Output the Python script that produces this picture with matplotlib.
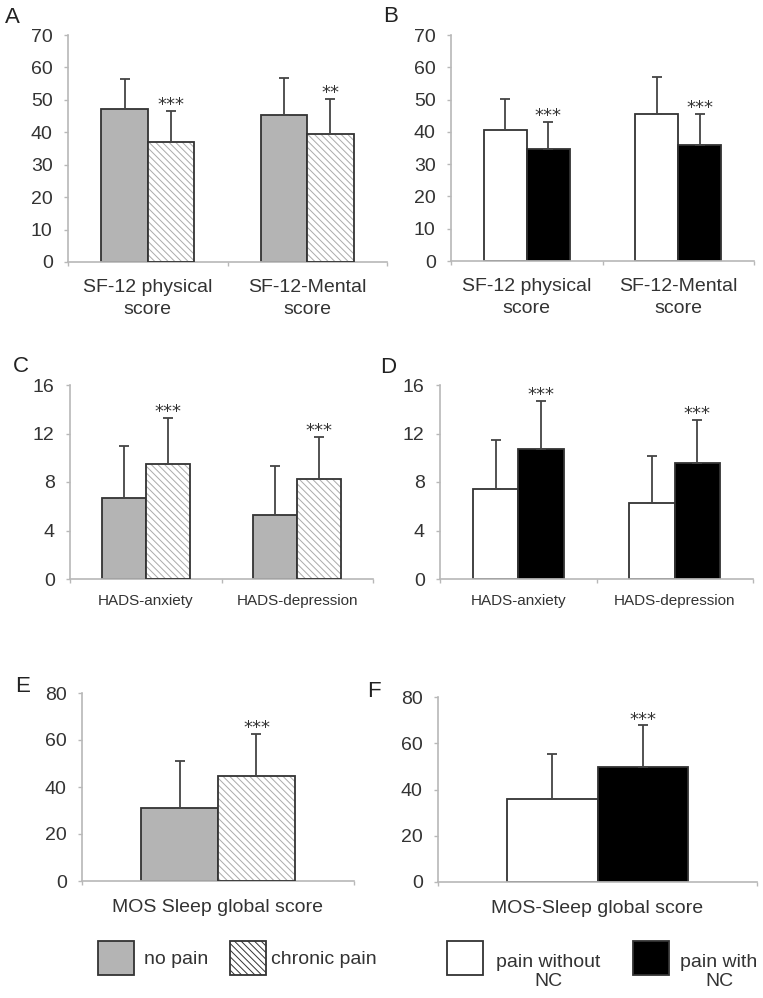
import matplotlib
matplotlib.use("Agg")
import matplotlib.pyplot as plt
from matplotlib.patches import Rectangle
import numpy as np

plt.rcParams['font.family'] = ['Liberation Sans', 'DejaVu Sans']
plt.rcParams['hatch.linewidth'] = 0.7

# ---- data ----
sf12_labels = ['SF-12 physical\nscore', 'SF-12-Mental\nscore']
sf12_no_pain = [47.2, 45.2]
sf12_no_pain_sd = [9.1, 11.6]
sf12_chronic = [36.9, 39.6]
sf12_chronic_sd = [9.7, 10.7]
sf12_stars_a = ['***', '**']
sf12_no_nc = [40.7, 45.4]
sf12_no_nc_sd = [9.6, 11.7]
sf12_nc = [34.7, 35.9]
sf12_nc_sd = [8.3, 9.6]
sf12_stars_b = ['***', '***']

hads_labels = ['HADS-anxiety', 'HADS-depression']
hads_no_pain = [6.66, 5.29]
hads_no_pain_sd = [4.34, 4.0]
hads_chronic = [9.45, 8.25]
hads_chronic_sd = [3.85, 3.45]
hads_no_nc = [7.4, 6.25]
hads_no_nc_sd = [4.1, 3.9]
hads_nc = [10.7, 9.6]
hads_nc_sd = [4.0, 3.5]
hads_stars = ['***', '***']

mos_label_e = ['MOS Sleep global score']
mos_label_f = ['MOS-Sleep global score']
mos_no_pain = [31.1]
mos_no_pain_sd = [20.1]
mos_chronic = [44.7]
mos_chronic_sd = [18.0]
mos_no_nc = [36.1]
mos_no_nc_sd = [19.3]
mos_nc = [49.6]
mos_nc_sd = [18.1]
mos_stars = ['***']

legend_left = ['no pain', 'chronic pain']
legend_right = ['pain without\nNC', 'pain with\nNC']

# styles
AXC = '#b8b8b8'
EDGE = '#333333'
TXT = '#333333'
HATCH = '\\\\\\\\\\'
gray = dict(color='#b4b4b4', hatch=None)
hatched = dict(color='white', hatch=HATCH)
white = dict(color='white', hatch=None)
black = dict(color='black', hatch=None)


def panel(ax, labels, m1, s1, m2, s2, st1, st2, stars, w, ymax, step,
          fs_x, pad_x):
    x = np.arange(len(labels))
    for xs, m, s, st in [(x - w / 2, m1, s1, st1), (x + w / 2, m2, s2, st2)]:
        if st['hatch']:
            ax.bar(xs, m, w, color=st['color'], edgecolor='#aaaaaa',
                   hatch=st['hatch'], linewidth=0, zorder=2)
            ax.bar(xs, m, w, fill=False, edgecolor=EDGE, linewidth=1.3, zorder=3)
        else:
            ax.bar(xs, m, w, color=st['color'], edgecolor=EDGE,
                   linewidth=1.3, zorder=2)
        ax.errorbar(xs, m, yerr=[np.zeros(len(m)), s], fmt='none',
                    ecolor='#444444', elinewidth=1.3, capsize=3.5,
                    capthick=1.3, zorder=4)
    for xi, m, s, t in zip(x + w / 2, m2, s2, stars):
        ax.annotate(t, (xi, m + s), xytext=(0, 0.5), textcoords='offset points',
                    ha='center', va='baseline', fontsize=13, color=TXT,
                    family='DejaVu Sans')
    ax.set_xlim(-0.5, len(labels) - 0.5)
    ax.set_ylim(0, ymax)
    ax.set_yticks(np.arange(0, ymax + 1, step))
    ax.set_xticks(x)
    ax.set_xticklabels(labels, fontsize=fs_x, color=TXT, linespacing=1.4)
    ax.set_xticks(np.arange(-0.5, len(labels), 1), minor=True)
    ax.tick_params(axis='x', which='major', length=0, pad=pad_x)
    ax.tick_params(axis='x', which='minor', length=3, color=AXC, width=1)
    ax.tick_params(axis='y', length=3, color=AXC, width=1, pad=8,
                   labelsize=14, labelcolor=TXT)
    for sp in ['top', 'right']:
        ax.spines[sp].set_visible(False)
    for sp in ['left', 'bottom']:
        ax.spines[sp].set_color(AXC)
        ax.spines[sp].set_linewidth(1.2)


W, H = 763, 998
fig = plt.figure(figsize=(W / 100, H / 100), dpi=100)


def box(l, r, top, bot):
    return [l / W, 1 - bot / H, (r - l) / W, (bot - top) / H]


axA = fig.add_axes(box(68, 387, 35, 262))
axB = fig.add_axes(box(451, 754, 35, 261))
axC = fig.add_axes(box(70, 373, 385, 579))
axD = fig.add_axes(box(440, 753, 385, 579))
axE = fig.add_axes(box(82, 354, 693, 881))
axF = fig.add_axes(box(438, 757, 697, 882))

panel(axA, sf12_labels, sf12_no_pain, sf12_no_pain_sd, sf12_chronic,
      sf12_chronic_sd, gray, hatched, sf12_stars_a, 0.29, 70, 10, 14, 12)
panel(axB, sf12_labels, sf12_no_nc, sf12_no_nc_sd, sf12_nc, sf12_nc_sd,
      white, black, sf12_stars_b, 0.284, 70, 10, 14, 12)
panel(axC, hads_labels, hads_no_pain, hads_no_pain_sd, hads_chronic,
      hads_chronic_sd, gray, hatched, hads_stars, 0.29, 16, 4, 11, 11)
panel(axD, hads_labels, hads_no_nc, hads_no_nc_sd, hads_nc, hads_nc_sd,
      white, black, hads_stars, 0.29, 16, 4, 11, 11)
panel(axE, mos_label_e, mos_no_pain, mos_no_pain_sd, mos_chronic,
      mos_chronic_sd, gray, hatched, mos_stars, 0.283, 80, 20, 14, 13)
panel(axF, mos_label_f, mos_no_nc, mos_no_nc_sd, mos_nc, mos_nc_sd,
      white, black, mos_stars, 0.283, 80, 20, 14, 13)

# panel letters
for letter, px, py in [('A', 5, 23), ('B', 383, 22), ('C', 13, 372),
                       ('D', 380, 373), ('E', 15, 692), ('F', 367, 697)]:
    fig.text(px / W, 1 - py / H, letter, fontsize=16, color='#222222',
             va='baseline', ha='left')

# legends (drawn by hand: box + text)
legend_items = [
    (legend_left[0], dict(facecolor='#b4b4b4'), 98, 144, 'left'),
    (legend_left[1], dict(facecolor='white', hatch=HATCH), 230, 271, 'left'),
    (legend_right[0], dict(facecolor='white'), 447, 548, 'center'),
    (legend_right[1], dict(facecolor='black'), 633, 719, 'center'),
]
for label, st, bx, tx, al in legend_items:
    fig.add_artist(Rectangle((bx / W, 1 - 975 / H), 36 / W, 34 / H,
                             transform=fig.transFigure, edgecolor=EDGE,
                             linewidth=1.3, **st))
    if '\n' in label:
        fig.text(tx / W, 1 - 972 / H, label, fontsize=14, color=TXT,
                 ha='center', va='center', multialignment='center',
                 linespacing=1.15)
    else:
        fig.text(tx / W, 1 - 960 / H, label, fontsize=14, color=TXT,
                 ha='left', va='center')

fig.savefig('out.png', dpi=100)
